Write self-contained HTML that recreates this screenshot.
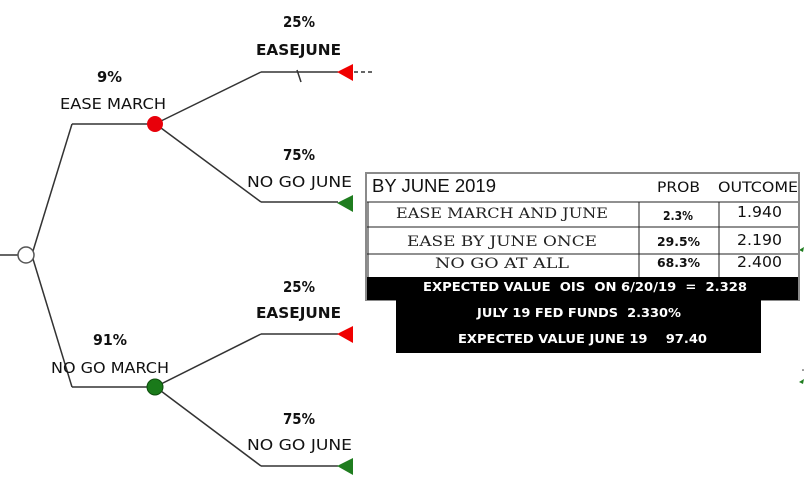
<!DOCTYPE html>
<html><head><meta charset="utf-8"><style>
html,body{margin:0;padding:0;background:#fff;}
svg{display:block;}
text{white-space:pre;}
.c{font-family:"DejaVu Sans","Liberation Sans",sans-serif;fill:#111;}
.b{font-weight:bold;}
.m{font-family:"DejaVu Serif","Liberation Serif",serif;fill:#222;}
.a{font-family:"Liberation Sans",sans-serif;fill:#111;}
.w{font-family:"DejaVu Sans","Liberation Sans",sans-serif;fill:#fff;font-weight:bold;}
</style></head><body>
<svg width="812" height="487" viewBox="0 0 812 487" xmlns="http://www.w3.org/2000/svg" xml:space="preserve">
<g stroke="#333" stroke-width="1.5" fill="none">
  <line x1="0" y1="255" x2="18" y2="255"/>
  <line x1="33" y1="251" x2="72" y2="124"/>
  <line x1="33" y1="259" x2="72" y2="387"/>
  <line x1="72" y1="124" x2="150" y2="124"/>
  <line x1="72" y1="387" x2="150" y2="387"/>
  <line x1="161" y1="121" x2="261" y2="72"/>
  <line x1="161" y1="128" x2="261" y2="202"/>
  <line x1="261" y1="72" x2="338" y2="72"/>
  <line x1="261" y1="202" x2="338" y2="202"/>
  <line x1="297" y1="70" x2="301" y2="82"/>
  <line x1="354" y1="72" x2="373" y2="72" stroke-dasharray="4,3"/>
  <line x1="161" y1="384" x2="261" y2="334"/>
  <line x1="161" y1="391" x2="261" y2="466"/>
  <line x1="261" y1="334" x2="338" y2="334"/>
  <line x1="261" y1="466" x2="338" y2="466"/>
</g>
<circle cx="26" cy="255" r="8" fill="#fff" stroke="#555" stroke-width="1.5"/>
<circle cx="155" cy="124" r="8" fill="#e8000a"/>
<circle cx="155" cy="387" r="8" fill="#1a7a1a" stroke="#0d4d0d" stroke-width="1"/>
<polygon points="337,72 353,64 353,81" fill="#f00000"/>
<polygon points="337,203 353,195 353,212" fill="#1f7d1f"/>
<polygon points="337,334 353,326 353,343" fill="#f00000"/>
<polygon points="337,466 353,458 353,475" fill="#1f7d1f"/>
<polygon points="799,250 804,247 803,252" fill="#1f7d1f"/>
<polygon points="799,382 804,379 803,384" fill="#1f7d1f"/>
<circle cx="803" cy="370" r="0.8" fill="#333"/>

<text class="c b" x="283" y="27" font-size="15" textLength="32" lengthAdjust="spacingAndGlyphs">25%</text>
<text class="c" x="256" y="55" font-size="15" font-weight="600" textLength="85" lengthAdjust="spacingAndGlyphs">EASEJUNE</text>
<text class="c b" x="97" y="82" font-size="15" textLength="25" lengthAdjust="spacingAndGlyphs">9%</text>
<text class="c" x="60" y="109" font-size="15" textLength="106" lengthAdjust="spacingAndGlyphs">EASE MARCH</text>
<text class="c b" x="283" y="160" font-size="15" textLength="32" lengthAdjust="spacingAndGlyphs">75%</text>
<text class="c" x="247" y="187" font-size="15" textLength="105" lengthAdjust="spacingAndGlyphs">NO GO JUNE</text>

<text class="c b" x="283" y="292" font-size="15" textLength="32" lengthAdjust="spacingAndGlyphs">25%</text>
<text class="c" x="256" y="318" font-size="15" font-weight="600" textLength="85" lengthAdjust="spacingAndGlyphs">EASEJUNE</text>
<text class="c b" x="93" y="345" font-size="15" textLength="34" lengthAdjust="spacingAndGlyphs">91%</text>
<text class="c" x="51" y="373" font-size="15" textLength="118" lengthAdjust="spacingAndGlyphs">NO GO MARCH</text>
<text class="c b" x="283" y="424" font-size="15" textLength="32" lengthAdjust="spacingAndGlyphs">75%</text>
<text class="c" x="247" y="450" font-size="15" textLength="105" lengthAdjust="spacingAndGlyphs">NO GO JUNE</text>

<rect x="366" y="173" width="433" height="127" fill="#fff" stroke="#8a8a8a" stroke-width="2"/>
<g stroke="#222" stroke-width="1">
  <line x1="367" y1="202" x2="798" y2="202"/>
  <line x1="367" y1="227" x2="798" y2="227"/>
  <line x1="367" y1="254" x2="798" y2="254"/>
  <line x1="639" y1="202" x2="639" y2="277"/>
  <line x1="719" y1="202" x2="719" y2="277"/>
  <line x1="368" y1="202" x2="368" y2="277"/>
</g>
<rect x="367" y="277" width="431" height="23" fill="#000"/>
<rect x="396" y="300" width="365" height="53" fill="#000"/>

<text class="a" x="372" y="192" font-size="18" textLength="124" lengthAdjust="spacingAndGlyphs">BY JUNE 2019</text>
<text class="c" x="657" y="192" font-size="14" textLength="43" lengthAdjust="spacingAndGlyphs">PROB</text>
<text class="c" x="718" y="192" font-size="14" textLength="80" lengthAdjust="spacingAndGlyphs">OUTCOME</text>

<text class="m" x="396" y="218" font-size="14" textLength="212" lengthAdjust="spacingAndGlyphs">EASE MARCH AND JUNE</text>
<text class="m" x="407" y="246" font-size="14" textLength="190" lengthAdjust="spacingAndGlyphs">EASE BY JUNE ONCE</text>
<text class="m" x="435" y="268" font-size="14" textLength="134" lengthAdjust="spacingAndGlyphs">NO GO AT ALL</text>

<text class="c b" x="663" y="220" font-size="12" textLength="30" lengthAdjust="spacingAndGlyphs">2.3%</text>
<text class="c b" x="657" y="246" font-size="12" textLength="43" lengthAdjust="spacingAndGlyphs">29.5%</text>
<text class="c b" x="657" y="267" font-size="12" textLength="43" lengthAdjust="spacingAndGlyphs">68.3%</text>

<text class="c" x="737" y="217" font-size="15" textLength="45" lengthAdjust="spacingAndGlyphs">1.940</text>
<text class="c" x="737" y="245" font-size="15" textLength="45" lengthAdjust="spacingAndGlyphs">2.190</text>
<text class="c" x="737" y="267" font-size="15" textLength="45" lengthAdjust="spacingAndGlyphs">2.400</text>

<text class="w" x="423" y="291" font-size="12" textLength="324" lengthAdjust="spacingAndGlyphs">EXPECTED VALUE  OIS  ON 6/20/19  =  2.328</text>
<text class="w" x="477" y="317" font-size="12" textLength="204" lengthAdjust="spacingAndGlyphs">JULY 19 FED FUNDS  2.330%</text>
<text class="w" x="458" y="343" font-size="12" textLength="249" lengthAdjust="spacingAndGlyphs">EXPECTED VALUE JUNE 19    97.40</text>
</svg>
</body></html>
